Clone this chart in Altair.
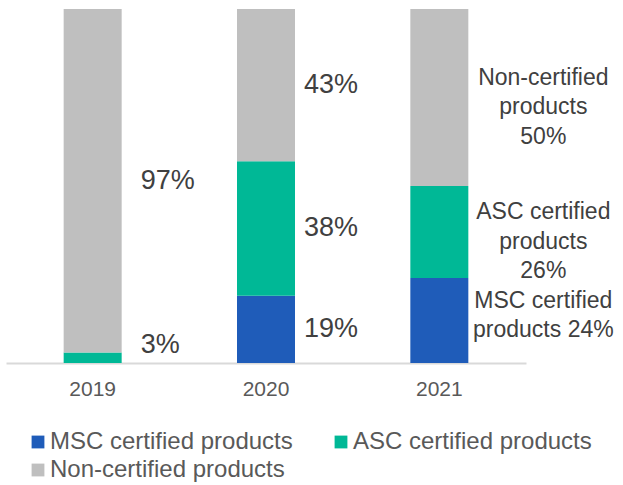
import altair as alt
import pandas as pd

# Share of products by certification status, per year (percent)
years = ["2019", "2020", "2021"]
categories = ["MSC certified products", "ASC certified products", "Non-certified products"]
msc = [0, 19, 24]
asc = [3, 38, 26]
non = [97, 43, 50]
colors = ["#1F5CB9", "#00B896", "#BFBFBF"]

# Wording used next to the 2021 bar (the value is appended below)
label_2021 = {
    "MSC certified products": "MSC certified\nproducts {v}%",
    "ASC certified products": "ASC certified\nproducts\n{v}%",
    "Non-certified products": "Non-certified\nproducts\n{v}%",
}

rows = []
for i, y in enumerate(years):
    for k, (cat, series) in enumerate(zip(categories, [msc, asc, non])):
        v = series[i]
        if y == "2021":
            text = label_2021[cat].format(v=v)
        else:
            text = f"{v}%"
        rows.append({"year": y, "category": cat, "idx": k, "value": v, "label": text})
df = pd.DataFrame(rows)

FONT = "Liberation Sans"

x_enc = alt.X("year:N", sort=years, title=None,
              scale=alt.Scale(paddingInner=0, paddingOuter=0),
              axis=alt.Axis(labelAngle=0, ticks=False, domainColor="#D9D9D9",
                            domainWidth=2, labelFontSize=21, labelColor="#595959",
                            labelFont=FONT, labelPadding=15))
y_scale = alt.Scale(domain=[0, 100])

bars = alt.Chart(df).mark_bar(size=58).encode(
    x=x_enc,
    y=alt.Y("value:Q", stack="zero", scale=y_scale, axis=None),
    color=alt.Color(
        "category:N",
        scale=alt.Scale(domain=categories, range=colors),
        legend=alt.Legend(
            title=None, orient="none", legendX=20, legendY=421, columns=2,
            direction="horizontal",
            symbolType="square", symbolSize=164, symbolStrokeWidth=0,
            labelFontSize=24, labelFont=FONT, labelColor="#595959",
            labelLimit=400, columnPadding=36, rowPadding=4,
            symbolOffset=0, labelOffset=0, padding=0,
        ),
    ),
    order=alt.Order("idx:Q", sort="ascending"),
)

base_text = (
    alt.Chart(df)
    .transform_filter("datum.value > 0")
    .transform_stack(stack="value", groupby=["year"], as_=["y0", "y1"],
                     sort=[alt.SortField("idx", order="ascending")])
    .transform_calculate(mid="max((datum.y0 + datum.y1) / 2, 5)")
)

def label_layer(year, dx, dy, align, size):
    return base_text.transform_filter(f"datum.year == '{year}'").mark_text(
        align=align, baseline="middle", dx=dx, dy=dy, fontSize=size, font=FONT,
        color="#404040", lineBreak="\n", lineHeight=29.5,
    ).encode(
        x=alt.X("year:N", sort=years),
        y=alt.Y("mid:Q", scale=y_scale),
        text="label:N",
    )

labels = alt.layer(
    label_layer("2019", 48, 0, "left", 27),
    label_layer("2020", 38, 0, "left", 27),
    label_layer("2021", 104, -20, "center", 23),
)

chart = (
    alt.layer(bars, labels)
    .properties(
        width=520, height=354, autosize="none",
        padding={"left": 6, "top": 9, "right": 97, "bottom": 122},
    )
    .configure_view(stroke=None)
)

chart.save("out.html", embed_options={"renderer": "svg", "actions": False})
